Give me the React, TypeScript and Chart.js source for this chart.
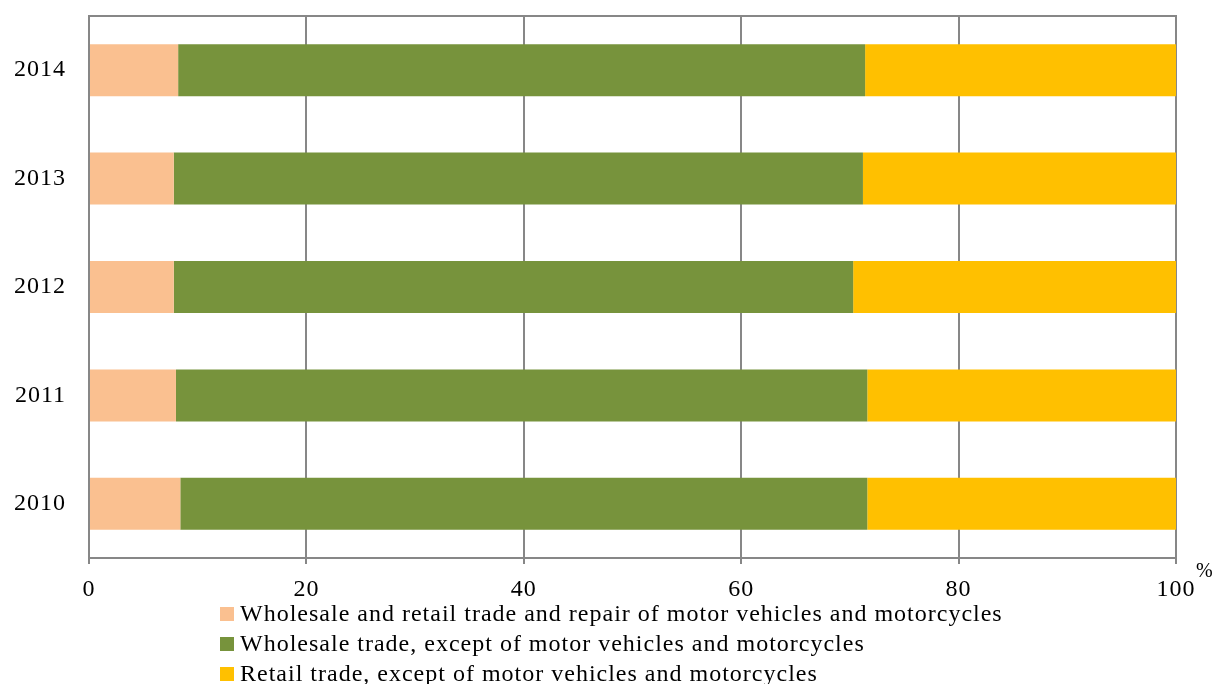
import React, { useEffect, useRef } from "react";
import { Chart, registerables } from "chart.js";

Chart.register(...registerables);

const years = ["2014", "2013", "2012", "2011", "2010"];
const repairMotor = [8.2, 7.8, 7.8, 8.0, 8.4];
const wholesaleTrade = [63.2, 63.4, 62.5, 63.6, 63.2];
const retailTrade = [28.6, 28.8, 29.7, 28.4, 28.4];
const xTickValues = [0, 20, 40, 60, 80, 100];
const seriesLabels = [
  "Wholesale and retail trade and repair of motor vehicles and motorcycles",
  "Wholesale trade, except of motor vehicles and motorcycles",
  "Retail trade, except of motor vehicles and motorcycles",
];
const seriesColors = ["#FAC090", "#77933C", "#FFC000"];
const unitLabel = "%";

const FONT = "'Liberation Serif', 'Times New Roman', serif";
const GRID = "#878787";
const CANVAS_SPACING = "1px";

const spacingPlugin = {
  id: "letterSpacing",
  beforeUpdate(chart: any) {
    chart.ctx.letterSpacing = CANVAS_SPACING;
  },
  beforeLayout(chart: any) {
    chart.ctx.letterSpacing = CANVAS_SPACING;
  },
  beforeDraw(chart: any) {
    chart.ctx.letterSpacing = CANVAS_SPACING;
  },
};

const topBorderPlugin = {
  id: "topBorder",
  afterDatasetsDraw(chart: any) {
    const { ctx, chartArea } = chart;
    ctx.save();
    ctx.strokeStyle = GRID;
    ctx.lineWidth = 2;
    ctx.beginPath();
    ctx.moveTo(chartArea.left - 1, chartArea.top);
    ctx.lineTo(chartArea.right + 1, chartArea.top);
    ctx.stroke();
    ctx.restore();
  },
};

export default function App() {
  const ref = useRef<HTMLCanvasElement | null>(null);

  useEffect(() => {
    if (!ref.current) return;
    const data = [repairMotor, wholesaleTrade, retailTrade];
    const chart = new Chart(ref.current, {
      type: "bar",
      data: {
        labels: years,
        datasets: data.map((d, i) => ({
          label: seriesLabels[i],
          data: d,
          backgroundColor: seriesColors[i],
          borderWidth: 0,
          barPercentage: 0.48,
          categoryPercentage: 1,
        })),
      },
      plugins: [spacingPlugin, topBorderPlugin],
      options: {
        indexAxis: "y",
        animation: false,
        responsive: false,
        layout: { padding: { left: 0, right: 39, top: 16, bottom: 86 } },
        plugins: {
          legend: { display: false },
          tooltip: { enabled: false },
        },
        scales: {
          x: {
            stacked: true,
            min: 0,
            max: 100,
            afterBuildTicks: (scale: any) => {
              scale.ticks = xTickValues.map((v) => ({ value: v }));
            },
            grid: {
              color: GRID,
              lineWidth: 2,
              drawTicks: true,
              tickLength: 6,
              tickColor: GRID,
            },
            border: { display: true, color: GRID, width: 2 },
            ticks: {
              color: "#000",
              font: { family: FONT, size: 24 },
              padding: 11,
              maxRotation: 0,
            },
            afterFit: (scale: any) => {
              scale.height = 40;
              scale.paddingLeft = 0;
              scale.paddingRight = 0;
            },
          },
          y: {
            stacked: true,
            grid: { display: false, drawTicks: false },
            border: { display: true, color: GRID, width: 2 },
            ticks: {
              color: "#000",
              font: { family: FONT, size: 24 },
              padding: 23,
            },
            afterFit: (scale: any) => {
              scale.width = 89;
              scale.paddingTop = 0;
              scale.paddingBottom = 0;
            },
          },
        },
      },
    } as any);
    return () => chart.destroy();
  }, []);

  return (
    <div
      style={{
        position: "fixed",
        left: 0,
        top: 0,
        width: 1215,
        height: 684,
        overflow: "hidden",
        background: "#fff",
      }}
    >
      <canvas ref={ref} width={1215} height={684} style={{ display: "block" }} />
      <span
        style={{
          position: "absolute",
          left: 1196,
          top: 558,
          fontFamily: FONT,
          fontSize: 20,
          lineHeight: "24px",
          color: "#000",
        }}
      >
        {unitLabel}
      </span>
      {seriesLabels.map((lab, i) => (
        <div
          key={lab}
          style={{
            position: "absolute",
            left: 220,
            top: 599 + i * 30,
            height: 28,
            display: "flex",
            alignItems: "flex-start",
            whiteSpace: "nowrap",
          }}
        >
          <span
            style={{
              display: "inline-block",
              width: 14,
              height: 14,
              background: seriesColors[i],
              marginTop: 8,
              marginRight: 6,
              flex: "none",
            }}
          />
          <span
            style={{
              fontFamily: FONT,
              fontSize: 24,
              lineHeight: "28px",
              letterSpacing: "1px",
              color: "#000",
            }}
          >
            {lab}
          </span>
        </div>
      ))}
    </div>
  );
}
